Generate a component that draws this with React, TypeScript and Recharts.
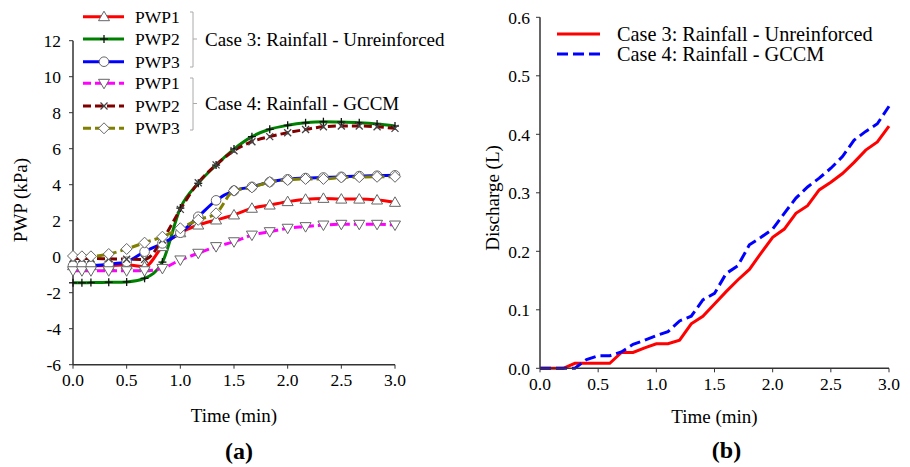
import React from "react"
import { Customized, Label, Line, LineChart, XAxis, YAxis } from "recharts"

const FONT = "'Liberation Serif', 'Times New Roman', serif"

// (a) pore water pressure, time in minutes
const pwpTime = [0, 0.083, 0.167, 0.333, 0.5, 0.667, 0.833, 1.0, 1.167, 1.333, 1.5, 1.667, 1.833, 2.0, 2.167, 2.333, 2.5, 2.667, 2.833, 3.0]
const c3pwp1 = [-0.5, -0.5, -0.5, -0.5, -0.45, -0.56, 0.56, 1.33, 1.76, 2.04, 2.32, 2.69, 2.87, 3.06, 3.19, 3.24, 3.2, 3.2, 3.15, 3.02]
const c3pwp2 = [-1.45, -1.45, -1.44, -1.42, -1.4, -1.2, -0.3, 2.7, 4.08, 5.09, 5.98, 6.67, 7.08, 7.3, 7.44, 7.5, 7.48, 7.44, 7.37, 7.26]
const c3pwp3 = [-0.5, -0.5, -0.5, -0.42, -0.28, 0.28, 0.74, 1.33, 2.22, 3.13, 3.67, 3.88, 4.15, 4.3, 4.37, 4.4, 4.44, 4.48, 4.5, 4.52]
const c4pwp1 = [-0.78, -0.78, -0.78, -0.78, -0.78, -0.78, -0.65, -0.18, 0.19, 0.56, 0.83, 1.2, 1.39, 1.58, 1.67, 1.76, 1.8, 1.8, 1.8, 1.76]
const c4pwp2 = [-0.1, -0.1, -0.1, -0.12, -0.14, -0.15, 0.93, 2.63, 4.11, 5.1, 5.89, 6.39, 6.67, 6.89, 7.07, 7.22, 7.26, 7.26, 7.22, 7.13]
const c4pwp3 = [0.04, 0.02, 0.02, 0.15, 0.43, 0.78, 1.11, 1.58, 2.05, 2.41, 3.67, 3.85, 4.15, 4.26, 4.32, 4.32, 4.4, 4.42, 4.44, 4.44]
const pwpTicks = [-6, -4, -2, 0, 2, 4, 6, 8, 10, 12]

// (b) discharge
const disTime = [0, 0.1, 0.2, 0.3, 0.4, 0.5, 0.6, 0.7, 0.8, 0.9, 1.0, 1.1, 1.2, 1.3, 1.4, 1.5, 1.6, 1.7, 1.8, 1.9, 2.0, 2.1, 2.2, 2.3, 2.4, 2.5, 2.6, 2.7, 2.8, 2.9, 3.0]
const disCase3 = [0, 0, 0, 0.0085, 0.0085, 0.0085, 0.0085, 0.027, 0.027, 0.035, 0.042, 0.042, 0.048, 0.076, 0.089, 0.11, 0.131, 0.151, 0.169, 0.197, 0.224, 0.238, 0.265, 0.278, 0.305, 0.318, 0.333, 0.352, 0.373, 0.387, 0.414]
const disCase4 = [0, 0, 0, 0, 0.015, 0.0215, 0.0215, 0.028, 0.041, 0.048, 0.056, 0.0626, 0.081, 0.089, 0.117, 0.128, 0.162, 0.175, 0.211, 0.224, 0.238, 0.265, 0.291, 0.31, 0.325, 0.342, 0.362, 0.39, 0.405, 0.418, 0.448]
const disTicks = [0, 0.1, 0.2, 0.3, 0.4, 0.5, 0.6]

const timeTicks = [0, 0.5, 1.0, 1.5, 2.0, 2.5, 3.0]

const pwpData = pwpTime.map((t, i) => ({
  t,
  a1: c3pwp1[i],
  a2: c3pwp2[i],
  a3: c3pwp3[i],
  b1: c4pwp1[i],
  b2: c4pwp2[i],
  b3: c4pwp3[i],
}))
const disData = disTime.map((t, i) => ({ t, c3: disCase3[i], c4: disCase4[i] }))

type Kind = "triUp" | "plus" | "circle" | "triDown" | "cross" | "diamond"

const Mark = ({ kind, cx, cy }: { kind: Kind; cx: number; cy: number }) => {
  const s = 5
  const st = { fill: "#fff", stroke: "#666", strokeWidth: 1 }
  if (kind === "triUp")
    return <polygon points={`${cx},${cy - s - 0.5} ${cx + s + 0.5},${cy + s * 0.8} ${cx - s - 0.5},${cy + s * 0.8}`} {...st} />
  if (kind === "triDown")
    return <polygon points={`${cx},${cy + s + 0.5} ${cx + s + 0.5},${cy - s * 0.8} ${cx - s - 0.5},${cy - s * 0.8}`} {...st} />
  if (kind === "circle") return <circle cx={cx} cy={cy} r={4.8} {...st} />
  if (kind === "diamond")
    return <polygon points={`${cx},${cy - s - 0.5} ${cx + s + 0.5},${cy} ${cx},${cy + s + 0.5} ${cx - s - 0.5},${cy}`} {...st} />
  if (kind === "plus")
    return (
      <g stroke="#111" strokeWidth={1.3}>
        <line x1={cx - 4} y1={cy} x2={cx + 4} y2={cy} />
        <line x1={cx} y1={cy - 4} x2={cx} y2={cy + 4} />
      </g>
    )
  return (
    <g stroke="#444" strokeWidth={1.3}>
      <line x1={cx - 3.5} y1={cy - 3.5} x2={cx + 3.5} y2={cy + 3.5} />
      <line x1={cx - 3.5} y1={cy + 3.5} x2={cx + 3.5} y2={cy - 3.5} />
    </g>
  )
}

const pwpSeries: { key: string; color: string; dash?: string; kind: Kind }[] = [
  { key: "a1", color: "#ff0000", kind: "triUp" },
  { key: "a2", color: "#008000", kind: "plus" },
  { key: "a3", color: "#0000ff", kind: "circle" },
  { key: "b1", color: "#ff00ff", dash: "8 4", kind: "triDown" },
  { key: "b2", color: "#800000", dash: "8 4", kind: "cross" },
  { key: "b3", color: "#808000", dash: "8 4", kind: "diamond" },
]

const dotFor = (kind: Kind) => (p: any) => <Mark key={`m-${p.index}`} kind={kind} cx={p.cx} cy={p.cy} />

const tickStyle = { fontFamily: FONT, fontSize: 17.5, fill: "#000" }
const axisLine = { stroke: "#333", strokeWidth: 1.5 }

const yTitle = (text: string, dx: number, yc: number) => (props: any) => {
  const x = props.viewBox.x + dx
  return (
    <text x={x} y={yc} transform={`rotate(-90, ${x}, ${yc})`} textAnchor="middle" dominantBaseline="central" fontFamily={FONT} fontSize={19} fill="#000">
      {text}
    </text>
  )
}

const xTitle = (text: string, dy: number, size: number, bold: boolean, shift = 0) => (props: any) => {
  const vb = props.viewBox
  return (
    <text x={vb.x + vb.width / 2 + shift} y={vb.y + dy} textAnchor="middle" dominantBaseline="central" fontFamily={FONT} fontSize={size} fontWeight={bold ? "bold" : "normal"} fill="#000">
      {text}
    </text>
  )
}

const PwpLegend = () => {
  const rows = [16.7, 39, 61.7, 83.3, 106, 128.3]
  return (
    <g fontFamily={FONT}>
      {pwpSeries.map((s, i) => (
        <g key={s.key}>
          <line x1={83} y1={rows[i]} x2={124} y2={rows[i]} stroke={s.color} strokeWidth={3} strokeDasharray={s.dash} />
          <Mark kind={s.kind} cx={104} cy={rows[i]} />
          <text x={135} y={rows[i]} dominantBaseline="central" fontSize={17.5} fill="#000">
            {`PWP${(i % 3) + 1}`}
          </text>
        </g>
      ))}
      <path d="M190 12 H193 V67 H190 M193 39 H197" fill="none" stroke="#aaa" strokeWidth={1} />
      <path d="M190 78 H193 V130 H190 M193 103.5 H197" fill="none" stroke="#aaa" strokeWidth={1} />
      <text x={205} y={39} dominantBaseline="central" fontSize={19} fill="#000">Case 3: Rainfall - Unreinforced</text>
      <text x={205} y={103.5} dominantBaseline="central" fontSize={19} fill="#000">Case 4: Rainfall - GCCM</text>
    </g>
  )
}

const DisLegend = () => (
  <g fontFamily={FONT} fontSize={20.3}>
    <line x1={97} y1={34} x2={140} y2={34} stroke="#ff0000" strokeWidth={3} />
    <text x={157} y={34} dominantBaseline="central" fill="#000">Case 3: Rainfall - Unreinforced</text>
    <line x1={97} y1={54} x2={140} y2={54} stroke="#0000ff" strokeWidth={3} strokeDasharray="11 5" />
    <text x={157} y={54} dominantBaseline="central" fill="#000">Case 4: Rainfall - GCCM</text>
  </g>
)

export default function App() {
  return (
    <div style={{ position: "absolute", left: 0, top: 0, width: 910, height: 467, background: "#fff" }}>
      <div style={{ position: "absolute", left: 0, top: 0 }}>
        <LineChart width={460} height={467} data={pwpData} margin={{ top: 40.7, right: 65, left: 0, bottom: 72.3 }}>
          <XAxis dataKey="t" type="number" domain={[0, 3]} ticks={timeTicks} tickFormatter={(v: number) => v.toFixed(1)} height={30} tick={tickStyle} axisLine={axisLine} tickLine={{ stroke: "#333" }} tickSize={4} tickMargin={5}>
            <Label content={xTitle("Time (min)", 51, 19, false)} />
            <Label content={xTitle("(a)", 86, 24, true, 5)} />
          </XAxis>
          <YAxis type="number" domain={[-6, 12]} ticks={pwpTicks} width={73} tick={tickStyle} axisLine={axisLine} tickLine={{ stroke: "#333" }} tickSize={4} tickMargin={8}>
            <Label content={yTitle("PWP (kPa)", 20, 200)} />
          </YAxis>
          {pwpSeries.map((s) => (
            <Line key={s.key} type="monotone" dataKey={s.key} stroke={s.color} strokeWidth={3} strokeDasharray={s.dash} dot={dotFor(s.kind)} activeDot={false} isAnimationActive={false} />
          ))}
          <Customized component={<PwpLegend />} />
        </LineChart>
      </div>
      <div style={{ position: "absolute", left: 460, top: 0 }}>
        <LineChart width={450} height={467} data={disData} margin={{ top: 17.3, right: 21, left: 0, bottom: 68.7 }}>
          <XAxis dataKey="t" type="number" domain={[0, 3]} ticks={timeTicks} tickFormatter={(v: number) => v.toFixed(1)} height={30} tick={tickStyle} axisLine={axisLine} tickLine={{ stroke: "#333" }} tickSize={4} tickMargin={5}>
            <Label content={xTitle("Time (min)", 48, 19, false)} />
            <Label content={xTitle("(b)", 82, 24, true, 12)} />
          </XAxis>
          <YAxis type="number" domain={[0, 0.6]} ticks={disTicks} tickFormatter={(v: number) => v.toFixed(1)} width={80} tick={tickStyle} axisLine={axisLine} tickLine={{ stroke: "#333" }} tickSize={4} tickMargin={6}>
            <Label content={yTitle("Discharge (L)", 32, 198)} />
          </YAxis>
          <Line type="linear" dataKey="c3" stroke="#ff0000" strokeWidth={3} dot={false} activeDot={false} isAnimationActive={false} />
          <Line type="linear" dataKey="c4" stroke="#0000ff" strokeWidth={3} strokeDasharray="11 5" dot={false} activeDot={false} isAnimationActive={false} />
          <Customized component={<DisLegend />} />
        </LineChart>
      </div>
    </div>
  )
}
